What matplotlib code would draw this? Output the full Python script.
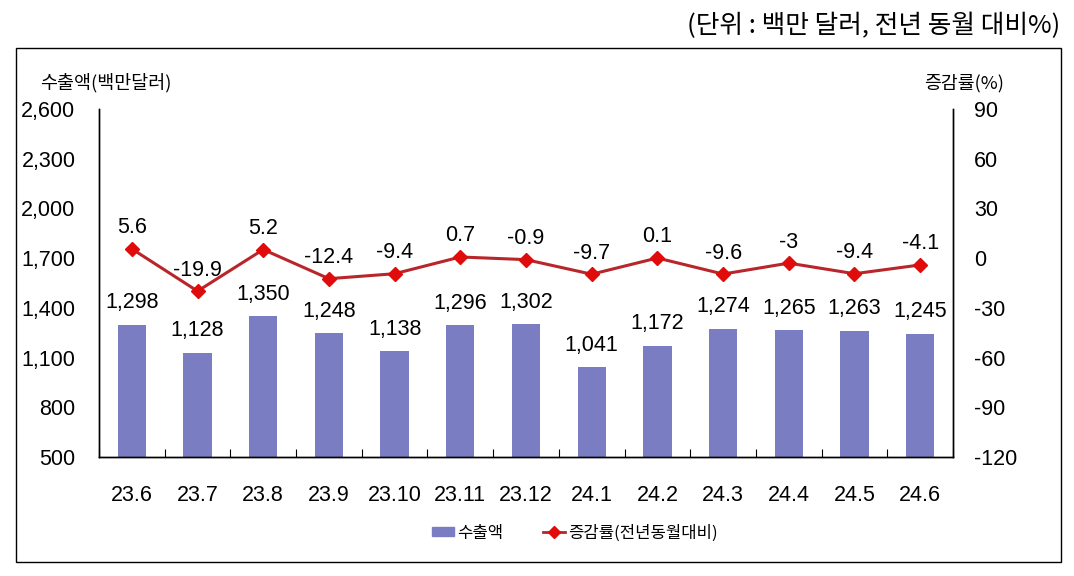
import matplotlib
matplotlib.use("Agg")
import matplotlib.pyplot as plt
from matplotlib.patches import Rectangle
from matplotlib.lines import Line2D
from matplotlib.patches import Patch
import numpy as np

plt.rcParams['font.family'] = ['Liberation Sans', 'Noto Sans CJK KR', 'DejaVu Sans']

months = ["23.6", "23.7", "23.8", "23.9", "23.10", "23.11", "23.12",
          "24.1", "24.2", "24.3", "24.4", "24.5", "24.6"]
exports = [1298, 1128, 1350, 1248, 1138, 1296, 1302, 1041, 1172, 1274, 1265, 1263, 1245]
growth = [5.6, -19.9, 5.2, -12.4, -9.4, 0.7, -0.9, -9.7, 0.1, -9.6, -3, -9.4, -4.1]
left_ticks = [500, 800, 1100, 1400, 1700, 2000, 2300, 2600]
right_ticks = [-120, -90, -60, -30, 0, 30, 60, 90]

BAR = "#7b7dc2"
LINE = "#b8262b"
MARK = "#e00b0b"
FS = 15.5
KR = ['Noto Sans CJK KR', 'DejaVu Sans']

fig = plt.figure(figsize=(10.74, 5.76), dpi=100)
ax = fig.add_axes([99/1074, 1-457/576, (953-99)/1074, (457-109)/576])
ax2 = ax.twinx()

x = np.arange(len(months))
ax.bar(x, exports, width=0.43, color=BAR, zorder=2)
ax.set_xlim(-0.5, len(months)-0.5)
ax.set_ylim(500, 2600)
ax.set_yticks(left_ticks)
ax.set_yticklabels([f"{v:,}" for v in left_ticks], fontsize=FS)
ax.tick_params(axis='y', length=0, pad=17)
ax.set_xticks(x)
ax.set_xticklabels(months, fontsize=FS)
ax.tick_params(axis='x', length=0, pad=20)
ax.set_xticks(np.arange(-0.5, len(months)), minor=True)
ax.tick_params(axis='x', which='minor', direction='in', length=6, width=0.8)

for xi, v in zip(x, exports):
    ax.annotate(f"{v:,}", (xi, v), xytext=(0, 22), textcoords='offset pixels',
                ha='center', va='center', fontsize=FS)

ax2.plot(x, growth, color=LINE, lw=2.2, marker='D', markersize=7.5,
         markerfacecolor=MARK, markeredgecolor=MARK, zorder=3)
ax2.set_ylim(-120, 90)
ax2.set_yticks(right_ticks)
ax2.set_yticklabels([str(v) for v in right_ticks], fontsize=FS)
ax2.tick_params(axis='y', length=0, pad=15)
for xi, v in zip(x, growth):
    ax2.annotate(f"{v:g}", (xi, v), xytext=(0, 21), textcoords='offset pixels',
                 ha='center', va='center', fontsize=FS)

for a in (ax, ax2):
    a.spines['top'].set_visible(False)
    for s in ('left', 'right', 'bottom'):
        a.spines[s].set_linewidth(1.0)
        a.spines[s].set_color('black')
ax.patch.set_visible(False)

# outer frame
fig.patches.append(Rectangle((16/1074, 1-562/576), (1061-16)/1074, (562-48)/576,
                             transform=fig.transFigure, fill=False, ec='black', lw=1.0))

fig.text(1060/1074, 1-26/576, "(단위 : 백만 달러, 전년 동월 대비%)", ha='right', va='center',
         fontsize=18.5, family=KR)
fig.text(40/1074, 1-83/576, "수출액(백만달러)", ha='left', va='center', fontsize=13.3, family=KR)
fig.text(1004/1074, 1-83/576, "증감률(%)", ha='right', va='center', fontsize=13.2, family=KR)

handles = [Patch(facecolor=BAR, edgecolor=BAR),
           Line2D([0], [0], color=LINE, lw=2, marker='D', markersize=6,
                  markerfacecolor=MARK, markeredgecolor=MARK)]
fig.legend(handles, ["수출액", "증감률(전년동월대비)"], loc='center', bbox_to_anchor=(575/1074, 1-533/576),
           ncol=2, frameon=False, handlelength=1.3, handleheight=0.5,
           columnspacing=2.4, handletextpad=0.2,
           prop={'family': KR, 'size': 12})

fig.savefig("out.png", dpi=100)
